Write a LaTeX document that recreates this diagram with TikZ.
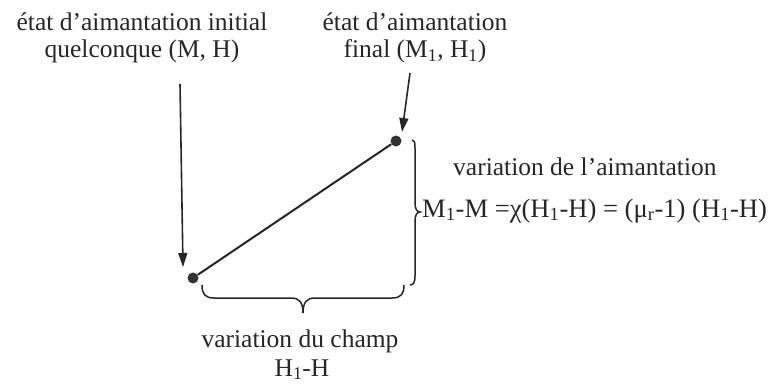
\documentclass[tikz,border=0pt]{standalone}
\usepackage{fontspec}
\setmainfont{Liberation Serif}
\usetikzlibrary{arrows.meta}
\begin{document}
\begin{tikzpicture}[x=1pt,y=-1pt,
  lbl/.style={font=\fontsize{25.5}{27}\selectfont, inner sep=0pt, anchor=base, text=black!85},
  dotn/.style={circle, fill=black!80, inner sep=0pt, minimum size=11pt},
  ln/.style={line width=2pt, draw=black!85},
  arr/.style={line width=1.6pt, draw=black!85, -{Triangle[length=14pt,width=9pt]}},
  brc/.style={line width=1.5pt, draw=black!85}]
\useasboundingbox (0,0) rectangle (770,385);
\node[lbl] (t1a) at (142,31) {état d’aimantation initial};
\node[lbl] (t1b) at (142,58) {quelconque (M, H)};
\node[lbl] (t2a) at (415,31) {état d’aimantation};
\node[lbl] (t2b) at (415,58) {final (M\textsubscript{1}, H\textsubscript{1})};
\node[dotn] (a) at (193,278) {};
\node[dotn] (b) at (396,141) {};
\draw[ln] (a) -- (b);
\coordinate (s1) at (180,84);
\coordinate (e1) at (183,267);
\coordinate (s2) at (410,73);
\coordinate (e2) at (402,132);
\draw[arr] (s1) -- (e1);
\draw[arr] (s2) -- (e2);
% right brace
\coordinate (r1) at (412,140);
\coordinate (r2) at (410,285);
\coordinate (rt) at (420,212);
\draw[brc] (r1) .. controls (414.5,140) and (415,142) .. (415,148) -- (415,203)
  .. controls (415,209) and (417,212) .. (rt)
  .. controls (417,212) and (415,215) .. (415,221) -- (415,276)
  .. controls (415,283) and (413,285) .. (r2);
% bottom brace
\coordinate (b1) at (202,285);
\coordinate (b2) at (404,285);
\coordinate (bt) at (303,313);
\draw[brc] (b1) .. controls (202,294) and (205,298) .. (214,298) -- (291,298)
  .. controls (299,298) and (303,302) .. (bt)
  .. controls (303,302) and (307,298) .. (315,298) -- (392,298)
  .. controls (401,298) and (404,294) .. (b2);
\node[lbl, anchor=base west] (va) at (453,175) {variation de l’aimantation};
\node[lbl, anchor=base west, font=\fontsize{26.6}{28}\selectfont] (fm) at (422,217) {M\textsubscript{1}-M =χ(H\textsubscript{1}-H) = (μ\textsubscript{r}-1) (H\textsubscript{1}-H)};
\node[lbl] (vc) at (300,347) {variation du champ};
\node[lbl] (vh) at (302,376) {H\textsubscript{1}-H};
\end{tikzpicture}
\end{document}
